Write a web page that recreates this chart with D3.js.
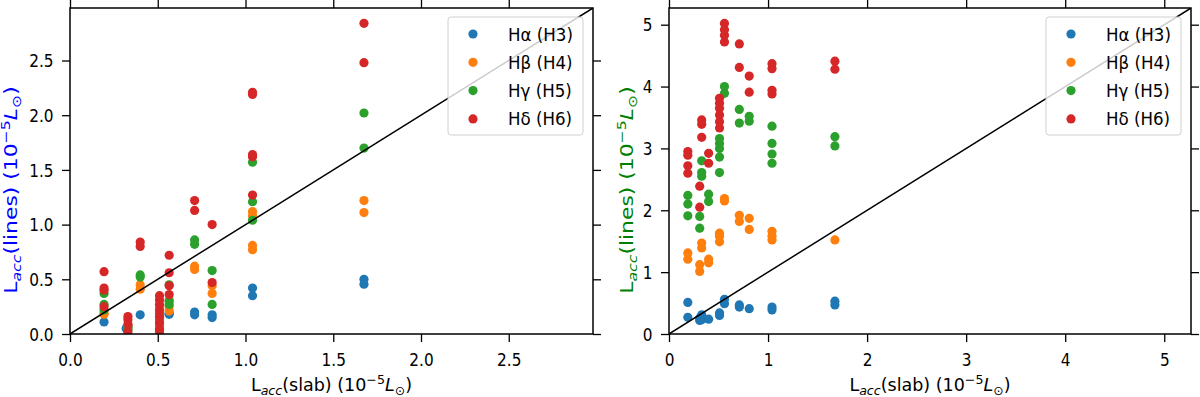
<!DOCTYPE html>
<html><head><meta charset="utf-8">
<script src="https://cdn.jsdelivr.net/npm/d3@7"></script>
<style>html,body{margin:0;padding:0;background:#fff;}svg{display:block;font-family:"DejaVu Sans",sans-serif;}</style>
</head><body>
<svg id="chart" width="1200" height="397"></svg>
<script>
// ---------- data ----------
const seriesNames = ["Hα (H3)", "Hβ (H4)", "Hγ (H5)", "Hδ (H6)"];
const seriesColors = ["#1f77b4", "#ff7f0e", "#2ca02c", "#d62728"];

const leftHa = [[0.194,0.11],[0.32,0.05],[0.33,0.07],[0.40,0.175],[0.51,0.02],[0.565,0.18],[0.565,0.19],[0.71,0.20],[0.71,0.175],[0.81,0.175],[0.81,0.15],[1.04,0.42],[1.04,0.35],[1.675,0.50],[1.675,0.455]];
const leftHb = [[0.194,0.19],[0.194,0.18],[0.33,0.08],[0.40,0.45],[0.40,0.41],[0.51,0.25],[0.51,0.15],[0.51,0.08],[0.565,0.21],[0.565,0.25],[0.565,0.31],[0.71,0.62],[0.71,0.59],[0.81,0.44],[0.81,0.37],[1.04,1.12],[1.04,1.08],[1.04,0.81],[1.04,0.77],[1.675,1.22],[1.675,1.11]];
const leftHg = [[0.194,0.22],[0.194,0.27],[0.194,0.37],[0.33,0.06],[0.33,0.04],[0.40,0.54],[0.40,0.52],[0.51,0.19],[0.51,0.13],[0.51,0.05],[0.51,0.02],[0.565,0.27],[0.565,0.30],[0.565,0.45],[0.71,0.86],[0.71,0.82],[0.81,0.58],[0.81,0.27],[1.04,1.57],[1.04,1.21],[1.04,1.04],[1.675,2.02],[1.675,1.70]];
const leftHd = [[0.194,0.57],[0.194,0.42],[0.194,0.40],[0.194,0.25],[0.33,0.16],[0.33,0.13],[0.33,0.09],[0.33,0.02],[0.40,0.84],[0.40,0.80],[0.51,0.35],[0.51,0.31],[0.51,0.27],[0.51,0.22],[0.51,0.16],[0.51,0.10],[0.51,0.04],[0.565,0.72],[0.565,0.56],[0.565,0.44],[0.565,0.36],[0.71,1.22],[0.71,1.13],[0.81,1.00],[0.81,0.47],[1.04,2.21],[1.04,2.19],[1.04,1.64],[1.04,1.62],[1.04,1.27],[1.675,2.84],[1.675,2.48]];

const rightHa = [[0.19,0.51],[0.19,0.27],[0.31,0.26],[0.31,0.22],[0.33,0.31],[0.33,0.23],[0.40,0.24],[0.51,0.34],[0.51,0.30],[0.56,0.56],[0.56,0.49],[0.71,0.47],[0.71,0.435],[0.81,0.41],[1.04,0.435],[1.04,0.39],[1.675,0.53],[1.675,0.47]];
const rightHb = [[0.19,1.31],[0.19,1.21],[0.31,1.12],[0.31,1.01],[0.33,1.47],[0.33,1.39],[0.40,1.21],[0.40,1.15],[0.51,1.63],[0.51,1.58],[0.51,1.49],[0.56,2.19],[0.56,2.15],[0.71,1.92],[0.71,1.82],[0.81,1.87],[0.81,1.69],[1.04,1.66],[1.04,1.58],[1.04,1.52],[1.675,1.52]];
const rightHg = [[0.19,2.24],[0.19,2.10],[0.19,1.91],[0.31,1.90],[0.31,1.71],[0.33,2.80],[0.33,2.61],[0.33,2.55],[0.40,2.26],[0.40,2.14],[0.51,3.16],[0.51,3.08],[0.51,3.00],[0.51,2.86],[0.51,2.61],[0.56,4.00],[0.56,3.89],[0.71,3.63],[0.71,3.41],[0.81,3.52],[0.81,3.44],[1.04,3.36],[1.04,3.08],[1.04,2.91],[1.04,2.76],[1.675,3.19],[1.675,3.04]];
const rightHd = [[0.19,2.95],[0.19,2.89],[0.19,2.72],[0.19,2.60],[0.31,2.39],[0.31,2.05],[0.33,3.46],[0.33,3.39],[0.33,3.18],[0.40,2.92],[0.40,2.76],[0.51,3.81],[0.51,3.73],[0.51,3.65],[0.51,3.54],[0.51,3.43],[0.51,3.33],[0.56,5.02],[0.56,4.92],[0.56,4.83],[0.56,4.72],[0.71,4.69],[0.71,4.31],[0.81,4.17],[0.81,3.91],[1.04,4.37],[1.04,4.29],[1.04,3.94],[1.04,3.88],[1.675,4.41],[1.675,4.28]];

const leftLimit = 2.98;
const rightLimit = 5.27;
const leftTicks = [0, 0.5, 1.0, 1.5, 2.0, 2.5];
const rightTicks = [0, 1, 2, 3, 4, 5];

// ---------- drawing ----------
const svg = d3.select("#chart");
const TICK = 8;
const COND = "'DejaVu Sans Condensed','DejaVu Sans',sans-serif";

function mathLabel(t, word) {
  t.append("tspan").text("L");
  t.append("tspan").attr("font-style","italic").attr("font-size","0.72em").attr("dy",4).text("acc");
  t.append("tspan").attr("dy",-4).text("(" + word + ") (10");
  t.append("tspan").attr("font-size","0.72em").attr("dy",-7).text("−5");
  t.append("tspan").attr("font-style","italic").attr("dy",7).text("L");
  t.append("tspan").attr("font-size","0.72em").attr("dy",4).text("⊙");
  t.append("tspan").attr("dy",-4).text(")");
}

function panel(opts) {
  const {x0, x1, y0, y1, limit, ticks, fmt, series, ylabelColor, clipId, ylabelX} = opts;
  const x = d3.scaleLinear().domain([0, limit]).range([x0, x1]);
  const y = d3.scaleLinear().domain([0, limit]).range([y1, y0]);
  const g = svg.append("g");

  g.append("clipPath").attr("id", clipId).append("rect")
    .attr("x", x0).attr("y", y0).attr("width", x1 - x0).attr("height", y1 - y0);

  const plot = g.append("g").attr("clip-path", `url(#${clipId})`);
  series.forEach((pts, i) => {
    plot.append("g").selectAll("circle").data(pts).join("circle")
      .attr("cx", d => x(d[0])).attr("cy", d => y(d[1])).attr("r", 4.6)
      .attr("fill", seriesColors[i]);
  });
  plot.append("line")
    .attr("x1", x(0)).attr("y1", y(0)).attr("x2", x(limit)).attr("y2", y(limit))
    .attr("stroke", "#000").attr("stroke-width", 1.5);

  // axes
  const styleAxis = (a) => {
    a.select(".domain").remove();
    a.selectAll(".tick line").attr("stroke", "#000").attr("stroke-width", 1.3);
    a.selectAll(".tick text").attr("fill", "#000").attr("font-size", 17).attr("font-family", COND);
  };
  g.append("g").attr("transform", `translate(0,${y1})`)
    .call(d3.axisBottom(x).tickValues(ticks).tickFormat(fmt).tickSize(TICK)).call(styleAxis)
    .selectAll(".tick text").attr("y", 31.5).attr("dy", 0);
  g.append("g").attr("transform", `translate(0,${y0})`)
    .call(d3.axisTop(x).tickValues(ticks).tickFormat("").tickSize(TICK)).call(styleAxis);
  g.append("g").attr("transform", `translate(${x0},0)`)
    .call(d3.axisLeft(y).tickValues(ticks).tickFormat(fmt).tickSize(TICK)).call(styleAxis)
    .selectAll(".tick text").attr("x", -16.5).attr("dy", "0.36em");
  g.append("g").attr("transform", `translate(${x1},0)`)
    .call(d3.axisRight(y).tickValues(ticks).tickFormat("").tickSize(TICK)).call(styleAxis);

  g.append("rect").attr("x", x0).attr("y", y0).attr("width", x1 - x0).attr("height", y1 - y0)
    .attr("fill", "none").attr("stroke", "#000").attr("stroke-width", 1.5);

  // legend
  const lx = x1 - 145, ly = y0 + 9;
  const leg = g.append("g");
  leg.append("rect").attr("x", lx).attr("y", ly).attr("width", 135).attr("height", 118)
    .attr("rx", 3).attr("fill", "#fff").attr("fill-opacity", 0.8)
    .attr("stroke", "#d0d0d0").attr("stroke-width", 1);
  seriesNames.forEach((name, i) => {
    const cy = ly + 17 + i * 28.3;
    leg.append("circle").attr("cx", lx + 25).attr("cy", cy).attr("r", 4.6).attr("fill", seriesColors[i]);
    leg.append("text").attr("x", lx + 60).attr("y", cy + 6.5).attr("font-size", 18.5)
      .attr("font-family", COND).attr("fill", "#000").text(name);
  });

  // axis labels
  const xl = g.append("text").attr("x", (x0 + x1) / 2).attr("y", 391)
    .attr("text-anchor", "middle").attr("font-size", 17.5).attr("fill", "#000");
  mathLabel(xl, "slab");
  const yl = g.append("text")
    .attr("transform", `translate(${ylabelX},190) rotate(-90) scale(1.25,1)`)
    .attr("text-anchor", "middle").attr("font-size", 17.5).attr("fill", ylabelColor);
  mathLabel(yl, "lines");
}

panel({x0: 70, x1: 593, y0: 8, y1: 334, limit: leftLimit, ticks: leftTicks, fmt: d3.format(".1f"),
  series: [leftHa, leftHb, leftHg, leftHd], ylabelColor: "#0000ff", clipId: "clipL", ylabelX: 17});
panel({x0: 669, x1: 1191, y0: 8, y1: 334, limit: rightLimit, ticks: rightTicks, fmt: d3.format("d"),
  series: [rightHa, rightHb, rightHg, rightHd], ylabelColor: "#008000", clipId: "clipR", ylabelX: 633});
</script>
</body></html>
